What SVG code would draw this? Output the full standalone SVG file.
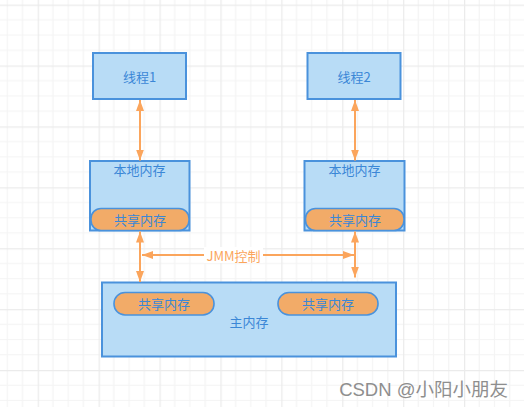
<svg xmlns="http://www.w3.org/2000/svg" width="524" height="407" viewBox="0 0 524 407">
<defs>
<pattern id="grid" patternUnits="userSpaceOnUse" x="-23.2" y="4.6" width="60.9" height="60.9">
<path d="M15.225 0V60.9M30.45 0V60.9M45.675 0V60.9M0 15.225H60.9M0 30.45H60.9M0 45.675H60.9" stroke="#f4f4f4" stroke-width="1.2" fill="none"/>
<path d="M0.5 0V60.9M0 0.5H60.9" stroke="#ebebeb" stroke-width="1.5" fill="none"/>
</pattern>
<marker id="ah" viewBox="0 0 11 8" refX="11" refY="4" markerWidth="11" markerHeight="8" markerUnits="userSpaceOnUse" orient="auto-start-reverse">
<path d="M0 0L11 4L0 8Z" fill="#fba55c"/>
</marker>
<style>
.box{fill:#b8dcf6;stroke:#4a92dc;stroke-width:2}
.pill{fill:#f2ab68;stroke:#4a92dc;stroke-width:1.6}
.t{font-family:"Noto Sans CJK SC","Liberation Sans",sans-serif;font-size:13px;fill:#3b87d6;text-anchor:middle;dominant-baseline:central}
.c{stroke:#fba55c;stroke-width:2;fill:none;marker-start:url(#ah);marker-end:url(#ah)}
</style>
</defs>
<rect width="524" height="407" fill="#ffffff"/>
<rect width="524" height="407" fill="url(#grid)"/>

<g id="thread1">
<rect class="box" x="93" y="53" width="93" height="46"/>
<text class="t" x="139.5" y="76">线程1</text>
</g>
<g id="thread2">
<rect class="box" x="307.5" y="53" width="93" height="46"/>
<text class="t" x="354" y="76">线程2</text>
</g>
<g id="local1">
<rect class="box" x="90" y="161" width="99.5" height="69.5"/>
<text class="t" x="139.5" y="169">本地内存</text>
<rect class="pill" x="91" y="208.5" width="98" height="22" rx="10"/>
<text class="t" x="140" y="219.5">共享内存</text>
</g>
<g id="local2">
<rect class="box" x="304.5" y="161" width="100" height="69.5"/>
<text class="t" x="354.5" y="169">本地内存</text>
<rect class="pill" x="305.5" y="208.5" width="98.5" height="22" rx="10"/>
<text class="t" x="355" y="219.5">共享内存</text>
</g>
<g id="main">
<rect class="box" x="102" y="282.5" width="294" height="74"/>
<rect class="pill" x="114" y="292.5" width="100" height="22.5" rx="11"/>
<text class="t" x="164" y="303.5">共享内存</text>
<rect class="pill" x="278" y="292.5" width="100" height="22.5" rx="11"/>
<text class="t" x="328" y="303.5">共享内存</text>
<text class="t" x="249" y="321">主内存</text>
</g>
<g id="connectors">
<line class="c" x1="140" y1="100" x2="140" y2="160.5"/>
<line class="c" x1="355" y1="100" x2="355" y2="160.5"/>
<line class="c" x1="140" y1="231.5" x2="140" y2="282"/>
<line class="c" x1="355" y1="231.5" x2="355" y2="277.5"/>
<line class="c" x1="142" y1="255" x2="354" y2="255"/>
<rect x="204" y="247" width="59" height="16" fill="#ffffff"/>
<text x="233.5" y="255" font-family="'Noto Sans CJK SC','Liberation Sans',sans-serif" font-size="13" fill="#fba55c" text-anchor="middle" dominant-baseline="central">JMM控制</text>
</g>
<text x="508" y="389" font-family="'Liberation Sans','Noto Sans CJK SC',sans-serif" font-size="18.5" fill="#8e8e8e" text-anchor="end" dominant-baseline="central">CSDN @小阳小朋友</text>
</svg>
